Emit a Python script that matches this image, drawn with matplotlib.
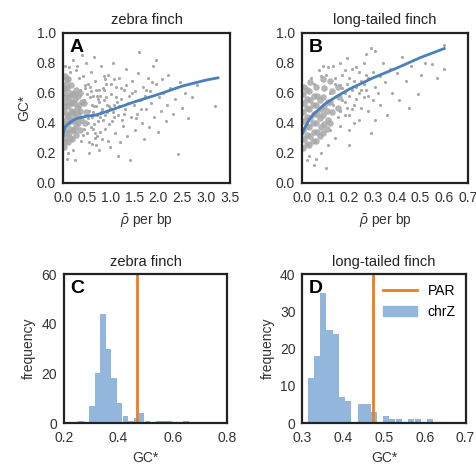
import matplotlib
matplotlib.use("Agg")
import matplotlib.pyplot as plt
from matplotlib.lines import Line2D
from matplotlib.patches import Patch

plt.rcParams['font.family'] = ['Liberation Sans', 'DejaVu Sans']
plt.rcParams['font.size'] = 10
plt.rcParams['mathtext.fontset'] = 'custom'
plt.rcParams['mathtext.it'] = 'Liberation Sans:italic'

# ---- panel A: zebra finch, GC* vs rho ----
a_core_x = [0.02, 0.05, 0.03, 0.06, 0.02, 0.05, 0.03, 0.06, 0.04,
            0.10, 0.12, 0.09, 0.13, 0.10, 0.12, 0.09, 0.11,
            0.18, 0.20, 0.17, 0.21, 0.18, 0.20, 0.17,
            0.27, 0.28, 0.25, 0.29, 0.26, 0.28,
            0.36, 0.38, 0.35, 0.39, 0.36,
            0.46, 0.48, 0.45,
            0.04, 0.07, 0.03, 0.08, 0.05, 0.07, 0.04, 0.08,
            0.14, 0.15, 0.14, 0.16, 0.15, 0.14,
            0.23, 0.24, 0.22, 0.24, 0.23,
            0.32, 0.31, 0.33, 0.32]
a_core_y = [0.24, 0.30, 0.36, 0.42, 0.48, 0.54, 0.60, 0.66, 0.71,
            0.27, 0.33, 0.39, 0.45, 0.51, 0.57, 0.63, 0.69,
            0.29, 0.35, 0.41, 0.47, 0.53, 0.59, 0.65,
            0.32, 0.38, 0.44, 0.50, 0.56, 0.62,
            0.35, 0.42, 0.48, 0.54, 0.60,
            0.40, 0.47, 0.53,
            0.27, 0.33, 0.39, 0.45, 0.51, 0.57, 0.63, 0.69,
            0.30, 0.36, 0.42, 0.48, 0.54, 0.60,
            0.35, 0.41, 0.47, 0.53, 0.59,
            0.40, 0.46, 0.52, 0.58]
a_pts_x = [0.35, 0.42, 0.38, 0.45, 0.50, 0.52, 0.55, 0.58, 0.60, 0.62, 0.65, 0.68,
           0.70, 0.72, 0.75, 0.78, 0.80, 0.82, 0.85, 0.88, 0.90, 0.92, 0.95, 0.98,
           1.00, 1.02, 1.05, 1.08, 1.10, 1.12, 1.15, 1.18, 1.20, 1.22, 1.25, 1.28,
           1.30, 1.32, 1.35, 1.38, 1.40, 1.42, 1.45, 1.48, 1.50, 1.52, 1.55, 1.58,
           1.60, 1.62, 1.65, 1.68, 1.70, 1.72, 1.75, 1.78, 1.80, 1.82, 1.85, 1.88,
           1.90, 1.95, 1.96, 2.00, 2.02, 2.05, 2.08, 2.10, 2.15, 2.18, 2.20, 2.25,
           2.30, 2.35, 2.41, 2.45, 2.50, 2.55, 2.62, 2.70, 2.80, 3.19,
           0.25, 0.55, 0.30, 0.48, 0.65, 0.20, 0.15, 0.10, 0.75, 1.15, 0.40,
           0.33, 0.44, 0.57, 0.63, 0.71, 0.77, 0.84, 0.91, 0.97, 1.04, 0.53,
           0.61, 0.69, 0.81, 0.87, 0.94, 1.07, 1.13, 1.24, 1.33, 0.46, 0.59,
           0.67, 0.74, 0.86, 0.99, 0.05, 0.08, 0.12, 0.22, 0.28,
           0.52, 0.56, 0.60, 0.64, 0.66, 0.70, 0.73, 0.76, 0.79, 0.83, 0.89, 0.93,
           0.50, 0.54, 0.58, 0.62, 0.68, 0.72, 0.78, 0.82, 0.88, 0.96, 1.01, 1.06,
           1.11, 1.17, 1.21, 1.27, 1.36, 1.44, 1.53, 1.63, 1.74, 1.86, 0.41, 0.47]
a_pts_y = [0.62, 0.71, 0.28, 0.55, 0.33, 0.66, 0.48, 0.74, 0.26, 0.58, 0.39, 0.68,
           0.51, 0.31, 0.62, 0.44, 0.78, 0.29, 0.55, 0.36, 0.66, 0.47, 0.72, 0.24,
           0.59, 0.41, 0.80, 0.52, 0.33, 0.64, 0.45, 0.70, 0.27, 0.56, 0.38, 0.62,
           0.49, 0.76, 0.31, 0.58, 0.15, 0.44, 0.68, 0.52, 0.35, 0.61, 0.46, 0.73,
           0.87, 0.55, 0.40, 0.64, 0.29, 0.58, 0.49, 0.70, 0.37, 0.61, 0.53, 0.78,
           0.44, 0.66, 0.82, 0.34, 0.57, 0.48, 0.69, 0.60, 0.41, 0.52, 0.72, 0.63,
           0.46, 0.56, 0.19, 0.67, 0.50, 0.60, 0.43, 0.57, 0.65, 0.51,
           0.15, 0.20, 0.78, 0.80, 0.84, 0.82, 0.74, 0.20, 0.22, 0.18, 0.85,
           0.70, 0.36, 0.64, 0.45, 0.58, 0.34, 0.42, 0.57, 0.39, 0.47, 0.43,
           0.52, 0.25, 0.49, 0.62, 0.28, 0.69, 0.54, 0.42, 0.65, 0.65, 0.37,
           0.30, 0.56, 0.71, 0.50, 0.78, 0.16, 0.77, 0.22, 0.75,
           0.40, 0.57, 0.44, 0.36, 0.51, 0.62, 0.41, 0.54, 0.47, 0.63, 0.45, 0.52,
           0.59, 0.27, 0.61, 0.47, 0.33, 0.45, 0.58, 0.48, 0.69, 0.51, 0.66, 0.44,
           0.57, 0.51, 0.63, 0.46, 0.53, 0.60, 0.43, 0.49, 0.62, 0.67, 0.32, 0.63]
a_fit_x = [0.0, 0.02, 0.05, 0.1, 0.2, 0.3, 0.5, 0.7, 1.0, 1.5, 2.0, 2.5, 3.0, 3.25]
a_fit_y = [0.31, 0.35, 0.375, 0.39, 0.415, 0.43, 0.445, 0.453, 0.485, 0.54, 0.59, 0.645, 0.685, 0.70]

# ---- panel B: long-tailed finch ----
b_core_x = [0.005, 0.01, 0.005, 0.01, 0.005, 0.01, 0.005, 0.01,
            0.03, 0.035, 0.03, 0.035, 0.03, 0.035, 0.03, 0.035,
            0.06, 0.065, 0.06, 0.065, 0.06, 0.065, 0.06,
            0.09, 0.095, 0.09, 0.095, 0.09, 0.095, 0.09,
            0.12, 0.125, 0.12, 0.125, 0.12,
            0.15, 0.155, 0.15,
            0.02, 0.02, 0.02, 0.02, 0.02, 0.02, 0.02,
            0.045, 0.05, 0.045, 0.05, 0.045, 0.05,
            0.075, 0.08, 0.075, 0.08, 0.075,
            0.105, 0.11, 0.105, 0.11]
b_core_y = [0.23, 0.29, 0.35, 0.41, 0.47, 0.53, 0.59, 0.64,
            0.25, 0.31, 0.37, 0.43, 0.49, 0.55, 0.61, 0.67,
            0.28, 0.34, 0.40, 0.46, 0.52, 0.58, 0.64,
            0.33, 0.39, 0.45, 0.51, 0.57, 0.63, 0.69,
            0.40, 0.47, 0.54, 0.61, 0.68,
            0.50, 0.57, 0.64,
            0.26, 0.32, 0.38, 0.44, 0.50, 0.56, 0.62,
            0.28, 0.34, 0.40, 0.46, 0.52, 0.58,
            0.31, 0.37, 0.43, 0.49, 0.55,
            0.36, 0.42, 0.48, 0.54]
b_pts_x = [0.02, 0.05, 0.08, 0.11, 0.14, 0.13, 0.16, 0.17, 0.18, 0.19, 0.20, 0.21,
           0.22, 0.23, 0.24, 0.25, 0.26, 0.27, 0.28, 0.29, 0.30, 0.31, 0.32, 0.33,
           0.34, 0.35, 0.36, 0.37, 0.38, 0.40, 0.41, 0.42, 0.44, 0.46, 0.49, 0.50,
           0.52, 0.55, 0.57, 0.60, 0.60, 0.10, 0.12, 0.14, 0.15, 0.16, 0.17, 0.18,
           0.19, 0.20, 0.22, 0.23, 0.24, 0.25, 0.26, 0.27, 0.28, 0.30, 0.31, 0.33,
           0.29, 0.31, 0.07, 0.09, 0.04, 0.03, 0.06, 0.10, 0.20, 0.45,
           0.13, 0.15, 0.16, 0.17, 0.18, 0.19, 0.20, 0.21, 0.22, 0.24, 0.26, 0.28,
           0.14, 0.16, 0.18, 0.20, 0.21, 0.23, 0.25, 0.27, 0.11, 0.12, 0.08, 0.05]
b_pts_y = [0.15, 0.12, 0.20, 0.25, 0.30, 0.78, 0.38, 0.72, 0.45, 0.83, 0.35, 0.62,
           0.52, 0.77, 0.42, 0.68, 0.57, 0.86, 0.48, 0.33, 0.74, 0.88, 0.60, 0.52,
           0.80, 0.67, 0.45, 0.76, 0.60, 0.73, 0.55, 0.84, 0.68, 0.78, 0.59, 0.72,
           0.80, 0.79, 0.70, 0.76, 0.92, 0.72, 0.60, 0.66, 0.44, 0.80, 0.55, 0.60,
           0.50, 0.70, 0.40, 0.64, 0.74, 0.50, 0.80, 0.62, 0.70, 0.55, 0.64, 0.71,
           0.90, 0.42, 0.75, 0.78, 0.70, 0.18, 0.16, 0.10, 0.25, 0.50,
           0.52, 0.58, 0.48, 0.63, 0.54, 0.66, 0.58, 0.49, 0.68, 0.60, 0.66, 0.58,
           0.70, 0.65, 0.75, 0.45, 0.76, 0.56, 0.62, 0.72, 0.77, 0.35, 0.71, 0.66]
b_fit_x = [0.0, 0.01, 0.03, 0.05, 0.1, 0.15, 0.2, 0.3, 0.4, 0.5, 0.6]
b_fit_y = [0.32, 0.36, 0.42, 0.46, 0.53, 0.58, 0.625, 0.70, 0.765, 0.835, 0.895]

# ---- panel C: zebra finch histogram of GC* ----
c_edges = [0.253, 0.273, 0.294, 0.314, 0.334, 0.355, 0.375, 0.395, 0.416, 0.436,
           0.456, 0.476, 0.497, 0.517, 0.537, 0.558, 0.578, 0.598, 0.619, 0.639]
c_counts = [1, 0, 7, 20, 44, 30, 18, 8, 3, 1, 2, 4, 1, 0, 1, 1, 1, 0, 0, 1]
c_par = 0.47

# ---- panel D: long-tailed finch histogram ----
d_edges = [0.313, 0.328, 0.344, 0.359, 0.375, 0.390, 0.405, 0.421, 0.436, 0.452,
           0.467, 0.482, 0.498, 0.513, 0.529, 0.544, 0.559, 0.575, 0.590, 0.605]
d_counts = [12, 18, 35, 25, 24, 7, 6, 0, 5, 5, 3, 0, 2, 1, 1, 0, 1, 1, 0, 1]
d_par = 0.474

gray = '#a8a8a8'
blue = '#4a80bb'
orange = '#ef7d1a'
hist_blue = '#93b7dc'

fig = plt.figure(figsize=(4.77, 4.68), dpi=100)
axA = fig.add_axes([0.132, 0.609, 0.350, 0.321])
axB = fig.add_axes([0.633, 0.609, 0.348, 0.321])
axC = fig.add_axes([0.134, 0.096, 0.342, 0.318])
axD = fig.add_axes([0.634, 0.096, 0.342, 0.318])

for ax, cx, cy, px, py, fx, fy in [(axA, a_core_x, a_core_y, a_pts_x, a_pts_y, a_fit_x, a_fit_y),
                                   (axB, b_core_x, b_core_y, b_pts_x, b_pts_y, b_fit_x, b_fit_y)]:
    ax.scatter(cx, cy, s=22, color=gray, alpha=0.85, lw=0)
    ax.scatter(px, py, s=5, color=gray, lw=0)
    ax.plot(fx, fy, color=blue, lw=2)
    ax.set_ylim(0, 1.0)
    ax.set_yticks([0.0, 0.2, 0.4, 0.6, 0.8, 1.0])
    ax.set_xlabel(r'$\bar{\rho}$ per bp')

axA.set_xlim(0, 3.5)
axA.set_xticks([0.0, 0.5, 1.0, 1.5, 2.0, 2.5, 3.0, 3.5])
axA.set_ylabel('GC*')
axA.set_title('zebra finch', fontsize=10.5)
axB.set_xlim(0, 0.7)
axB.set_xticks([0.0, 0.1, 0.2, 0.3, 0.4, 0.5, 0.6, 0.7])
axB.set_title('long-tailed finch', fontsize=10.5)

c_w = c_edges[1] - c_edges[0]
axC.bar(c_edges, c_counts, width=c_w, align='edge', color=hist_blue, lw=0)
axC.axvline(c_par, color=orange, lw=2)
axC.set_xlim(0.2, 0.8)
axC.set_xticks([0.2, 0.4, 0.6, 0.8])
axC.set_ylim(0, 60)
axC.set_yticks([0, 20, 40, 60])
axC.set_title('zebra finch', fontsize=10.5)

d_w = d_edges[1] - d_edges[0]
axD.bar(d_edges, d_counts, width=d_w, align='edge', color=hist_blue, lw=0)
axD.axvline(d_par, color=orange, lw=2)
axD.set_xlim(0.3, 0.7)
axD.set_xticks([0.3, 0.4, 0.5, 0.6, 0.7])
axD.set_ylim(0, 40)
axD.set_yticks([0, 10, 20, 30, 40])
axD.set_title('long-tailed finch', fontsize=10.5)
handles = [Line2D([0], [0], color=orange, lw=2), Patch(color=hist_blue)]
axD.legend(handles, ['PAR', 'chrZ'], loc='upper right', frameon=False,
           fontsize=10, handlelength=2.4, borderaxespad=0.3)

for ax in [axC, axD]:
    ax.set_xlabel('GC*')
    ax.set_ylabel('frequency')

for ax, letter in zip([axA, axB, axC, axD], 'ABCD'):
    ax.text(0.04, 0.96, letter, transform=ax.transAxes, fontsize=14,
            fontweight='bold', va='top', ha='left')
    for sp in ax.spines.values():
        sp.set_linewidth(1.6)
        sp.set_color('#222222')
        sp.set_zorder(5)
    ax.tick_params(axis='x', length=0, pad=6, labelcolor='#333333')
    ax.tick_params(axis='y', length=0, pad=5, labelcolor='#333333')
    ax.xaxis.label.set_color('#333333')
    ax.yaxis.label.set_color('#333333')
    ax.title.set_color('#222222')

fig.savefig('out.png', dpi=100)
